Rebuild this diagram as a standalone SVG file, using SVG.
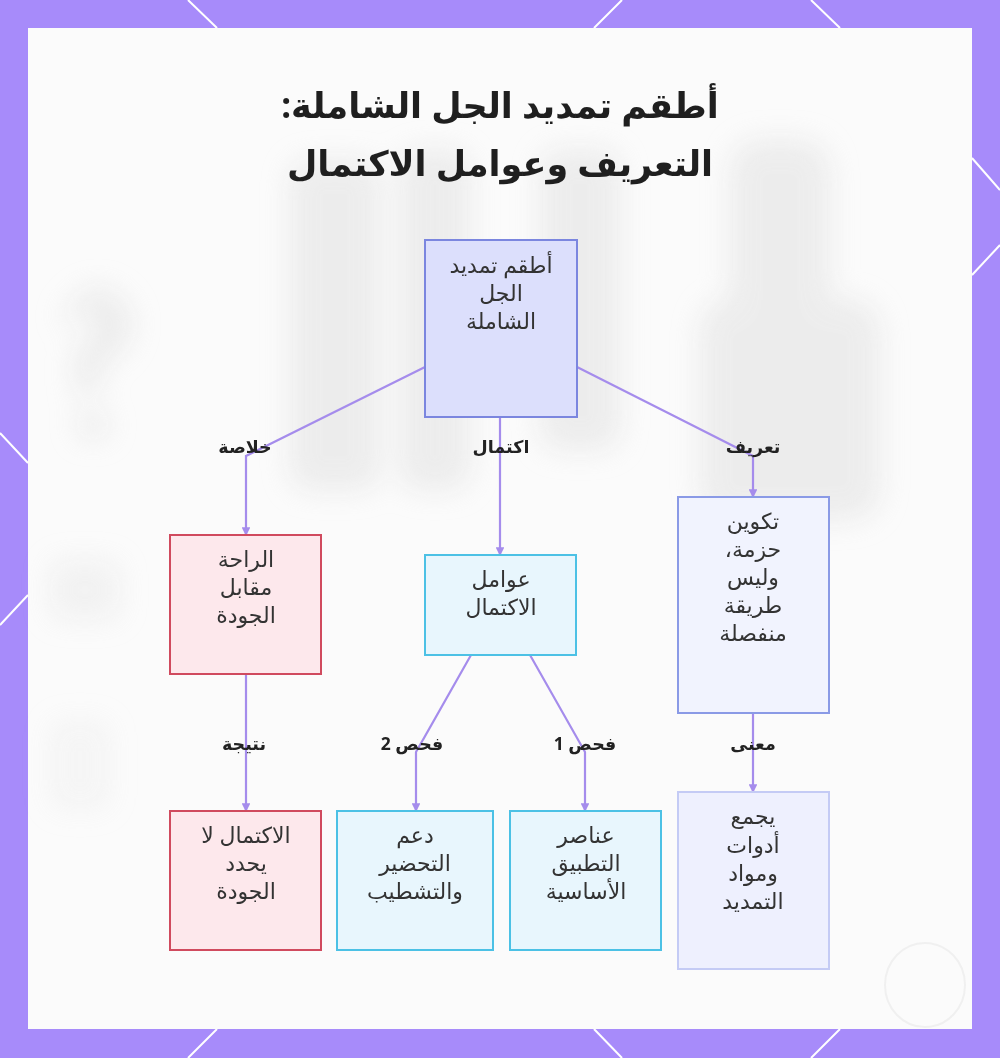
<svg xmlns="http://www.w3.org/2000/svg" width="1000" height="1058" viewBox="0 0 1000 1058">
  <defs>
    <style>
      .title { font-family: "Noto Sans", "DejaVu Sans", sans-serif; font-size: 35px; font-weight: 700; fill: #1f1f1f; direction: rtl; }
      .nt { font-family: "Noto Sans", "DejaVu Sans", sans-serif; font-size: 22px; fill: #333333; direction: rtl; text-anchor: middle; }
      .lbl { font-family: "Noto Sans", "DejaVu Sans", sans-serif; font-size: 17.5px; font-weight: 700; fill: #222222; direction: rtl; text-anchor: middle; }
      .edge { fill: none; stroke: #a58cec; stroke-width: 2.2; marker-end: url(#arr); }
      .hex { stroke: #ffffff; stroke-width: 2; fill: none; }
      .purple { fill: #dcdffc; stroke: #7b86df; stroke-width: 2; }
      .lav { fill: #f1f3fe; stroke: #8a9ae6; stroke-width: 2; }
      .lav2 { fill: #eef0fe; stroke: #c4cbf5; stroke-width: 2; }
      .cyan { fill: #e8f6fd; stroke: #4cc1e5; stroke-width: 2; }
      .red { fill: #fde8ec; stroke: #d04a5e; stroke-width: 2; }
      .ghost { fill: #e6e6e6; }
    </style>
    <marker id="arr" viewBox="0 0 8 8" refX="7" refY="4" markerWidth="4" markerHeight="4" orient="auto">
      <path d="M0,0 L8,4 L0,8 z" fill="#a58cec"/>
    </marker>
    <filter id="blur" x="-30%" y="-30%" width="160%" height="160%">
      <feGaussianBlur stdDeviation="14"/>
    </filter>
  </defs>

  <!-- frame -->
  <rect x="0" y="0" width="1000" height="1058" fill="#a78bfa"/>
  <g class="hex">
    <line x1="188" y1="0" x2="217" y2="28"/>
    <line x1="622" y1="0" x2="594" y2="28"/>
    <line x1="811" y1="0" x2="840" y2="28"/>
    <line x1="972" y1="158" x2="1000" y2="190"/>
    <line x1="972" y1="275" x2="1000" y2="245"/>
    <line x1="0" y1="433" x2="28" y2="463"/>
    <line x1="28" y1="595" x2="0" y2="625"/>
    <line x1="217" y1="1029" x2="188" y2="1058"/>
    <line x1="594" y1="1029" x2="622" y2="1058"/>
    <line x1="840" y1="1029" x2="811" y2="1058"/>
  </g>
  <rect x="28" y="28" width="944" height="1001" fill="#fbfbfb"/>

  <!-- faded background imagery -->
  <g filter="url(#blur)" opacity="0.7">
    <rect class="ghost" x="290" y="160" width="90" height="330" rx="20"/>
    <rect class="ghost" x="400" y="150" width="70" height="340" rx="20"/>
    <rect class="ghost" x="540" y="150" width="80" height="300" rx="20"/>
    <rect class="ghost" x="730" y="140" width="100" height="200" rx="30"/>
    <rect class="ghost" x="700" y="300" width="180" height="220" rx="30"/>
    <path class="ghost" d="M60,320 q35,-60 70,-10 q10,35 -28,55 l-5,30 l-22,0 l0,-45 q25,-15 20,-30 q-10,-15 -25,5 z"/>
    <rect class="ghost" x="78" y="412" width="30" height="26" rx="8"/>
    <rect class="ghost" x="50" y="560" width="70" height="60" rx="10" opacity="0.6"/>
    <rect class="ghost" x="50" y="720" width="60" height="90" rx="10" opacity="0.4"/>
  </g>
  <ellipse cx="925" cy="985" rx="40" ry="42" fill="none" stroke="#f0f0f0" stroke-width="2"/>

  <!-- title -->
  <text class="title" x="500" y="118" text-anchor="middle">أطقم تمديد الجل الشاملة:</text>
  <text class="title" x="500" y="176" text-anchor="middle">التعريف وعوامل الاكتمال</text>

  <!-- connectors -->
  <g id="connectors">
    <path class="edge" d="M425,367 L246,456 L246,535"/>
    <path class="edge" d="M500,417 L500,555"/>
    <path class="edge" d="M577,367 L753,456 L753,497"/>
    <path class="edge" d="M246,674 L246,811"/>
    <path class="edge" d="M471,655 L416,752 L416,811"/>
    <path class="edge" d="M530,655 L585,752 L585,811"/>
    <path class="edge" d="M753,713 L753,792"/>
    <text class="lbl" x="245" y="453">خلاصة</text>
    <text class="lbl" x="501" y="453">اكتمال</text>
    <text class="lbl" x="753" y="453">تعريف</text>
    <text class="lbl" x="244" y="750">نتيجة</text>
    <text class="lbl" x="412" y="750">فحص 2</text>
    <text class="lbl" x="585" y="750">فحص 1</text>
    <text class="lbl" x="753" y="750">معنى</text>
  </g>

  <!-- nodes -->
  <g id="root">
    <rect class="purple" x="425" y="240" width="152" height="177"/>
    <text class="nt" x="501" y="273">أطقم تمديد</text>
    <text class="nt" x="501" y="301">الجل</text>
    <text class="nt" x="501" y="329">الشاملة</text>
  </g>
  <g id="definition">
    <rect class="lav" x="678" y="497" width="151" height="216"/>
    <text class="nt" x="753" y="529">تكوين</text>
    <text class="nt" x="753" y="557">حزمة،</text>
    <text class="nt" x="753" y="585">وليس</text>
    <text class="nt" x="753" y="613">طريقة</text>
    <text class="nt" x="753" y="641">منفصلة</text>
  </g>
  <g id="factors">
    <rect class="cyan" x="425" y="555" width="151" height="100"/>
    <text class="nt" x="501" y="587">عوامل</text>
    <text class="nt" x="501" y="615">الاكتمال</text>
  </g>
  <g id="comfort">
    <rect class="red" x="170" y="535" width="151" height="139"/>
    <text class="nt" x="246" y="567">الراحة</text>
    <text class="nt" x="246" y="595">مقابل</text>
    <text class="nt" x="246" y="623">الجودة</text>
  </g>
  <g id="result">
    <rect class="red" x="170" y="811" width="151" height="139"/>
    <text class="nt" x="246" y="843">الاكتمال لا</text>
    <text class="nt" x="246" y="871">يحدد</text>
    <text class="nt" x="246" y="899">الجودة</text>
  </g>
  <g id="check2">
    <rect class="cyan" x="337" y="811" width="156" height="139"/>
    <text class="nt" x="415" y="843">دعم</text>
    <text class="nt" x="415" y="871">التحضير</text>
    <text class="nt" x="415" y="899">والتشطيب</text>
  </g>
  <g id="check1">
    <rect class="cyan" x="510" y="811" width="151" height="139"/>
    <text class="nt" x="586" y="843">عناصر</text>
    <text class="nt" x="586" y="871">التطبيق</text>
    <text class="nt" x="586" y="899">الأساسية</text>
  </g>
  <g id="meaning">
    <rect class="lav2" x="678" y="792" width="151" height="177"/>
    <text class="nt" x="753" y="824">يجمع</text>
    <text class="nt" x="753" y="853">أدوات</text>
    <text class="nt" x="753" y="881">ومواد</text>
    <text class="nt" x="753" y="909">التمديد</text>
  </g>
</svg>
